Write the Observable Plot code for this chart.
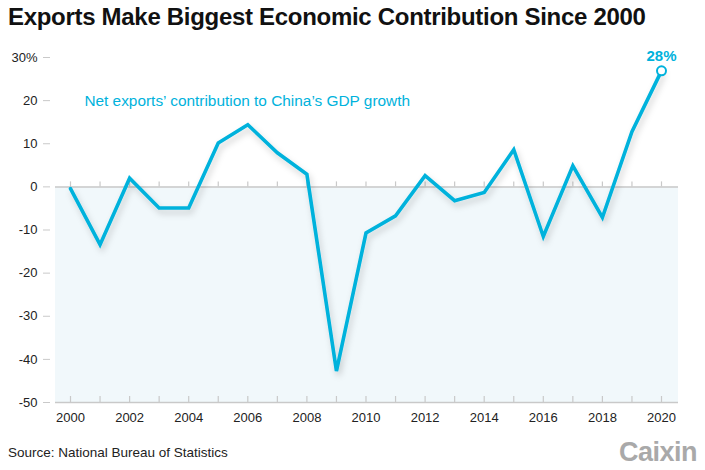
<!DOCTYPE html>
<html>
<head>
<meta charset="utf-8">
<script src="https://cdn.jsdelivr.net/npm/d3@7"></script>
<script src="https://cdn.jsdelivr.net/npm/@observablehq/plot@0.6"></script>
<style>
  html, body { margin: 0; padding: 0; background: #fff; }
  body { width: 705px; height: 470px; overflow: hidden; font-family: "Liberation Sans", Arial, sans-serif; }
  #title { height: 44px; box-sizing: border-box; padding: 3px 0 0 8px; font-size: 24px; font-weight: bold; color: #111; letter-spacing: -0.3px; white-space: nowrap; }
  #footer { position: relative; height: 36px; }
  #source { position: absolute; left: 8px; top: 11px; font-size: 13.5px; color: #222; }
  #logo { position: absolute; right: 8px; top: 3px; font-size: 27px; font-weight: bold; color: #a9a9a9; letter-spacing: -0.5px; }
</style>
</head>
<body>
<div id="title">Exports Make Biggest Economic Contribution Since 2000</div>
<div id="chart"></div>
<div id="footer"><div id="source">Source: National Bureau of Statistics</div><div id="logo">Caixin</div></div>
<script>
const years = [2000,2001,2002,2003,2004,2005,2006,2007,2008,2009,2010,2011,2012,2013,2014,2015,2016,2017,2018,2019,2020];
const contribution = [-0.4,-13.4,2.0,-4.9,-4.9,10.2,14.4,7.9,2.9,-42.7,-10.7,-6.7,2.6,-3.2,-1.3,8.6,-11.5,4.9,-7.1,12.8,26.9];
const yTicks = [30,20,10,0,-10,-20,-30,-40,-50];
const xTickLabels = [2000,2002,2004,2006,2008,2010,2012,2014,2016,2018,2020];
const seriesLabel = "Net exports’ contribution to China’s GDP growth";
const seriesLabelPos = {year: 2000.47, value: 20};
const endLabel = "28%";

const data = years.map((y, i) => ({year: y, value: contribution[i]}));
const last = data[data.length - 1];
const cyan = "#00b2dc";
const grey = "#c9c9c9";

const chart = Plot.plot({
  width: 705,
  height: 390,
  marginLeft: 55,
  marginRight: 27,
  marginTop: 13,
  marginBottom: 32,
  style: {fontFamily: "Liberation Sans, Arial, sans-serif", fontSize: "13px", color: "#222", background: "transparent"},
  x: {domain: [2000, 2020], insetLeft: 15, insetRight: 17},
  y: {domain: [-50, 30]},
  marks: [
    Plot.rect([{}], {y1: 0, y2: -50, fill: "#f1f8fb"}),
    Plot.ruleY([0, -50], {stroke: grey, strokeWidth: 1.5}),
    Plot.ruleX(years, {x: d => d, y1: 0, y2: 0, insetTop: -5, stroke: grey, strokeWidth: 1.2}),
    Plot.ruleX(years, {x: d => d, y1: -50, y2: -50, insetTop: -6, stroke: grey, strokeWidth: 1.2}),
    Plot.axisY({ticks: yTicks, tickSize: 7, dx: -5, tickPadding: 6, stroke: grey, fontSize: 13,
      tickFormat: d => d === 30 ? "30%" : String(d), label: null}),
    Plot.axisX({ticks: xTickLabels, tickSize: 0, tickPadding: 10, fontSize: 13, tickFormat: d => String(d), label: null}),
    Plot.line(data, {x: "year", y: "value", stroke: cyan, strokeWidth: 3.6, strokeLinejoin: "miter", strokeMiterlimit: 4, className: "mainline"}),
    Plot.dot([last], {x: "year", y: "value", r: 4.5, fill: "white", stroke: cyan, strokeWidth: 2}),
    Plot.text([last], {x: "year", y: "value", text: () => endLabel, dy: -15, fill: cyan, fontWeight: "bold", fontSize: 15}),
    Plot.text([seriesLabelPos], {x: "year", y: "value", text: () => seriesLabel, textAnchor: "start", fill: cyan, fontSize: 15.4})
  ]
});

const defs = d3.select(chart).insert("defs", ":first-child");
const f = defs.append("filter").attr("id", "shadow").attr("x", "-10%").attr("y", "-10%").attr("width", "130%").attr("height", "130%");
f.append("feDropShadow").attr("dx", 2).attr("dy", 4).attr("stdDeviation", 3).attr("flood-color", "#000").attr("flood-opacity", 0.18);
d3.select(chart).selectAll(".mainline").attr("filter", "url(#shadow)");

document.getElementById("chart").appendChild(chart);
</script>
</body>
</html>
